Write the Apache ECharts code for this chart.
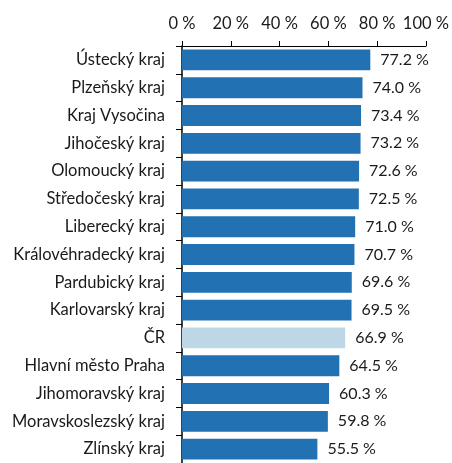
<!DOCTYPE html>
<html>
<head>
<meta charset="utf-8">
<script src="https://cdn.jsdelivr.net/npm/echarts@6/dist/echarts.min.js"></script>
<style>
  html, body { margin: 0; padding: 0; background: #fff; }
  #chart { width: 452px; height: 463px; }
</style>
</head>
<body>
<div id="chart"></div>
<script>
// kraje shora dolů
const regions = [
  "Ústecký kraj", "Plzeňský kraj", "Kraj Vysočina", "Jihočeský kraj",
  "Olomoucký kraj", "Středočeský kraj", "Liberecký kraj", "Královéhradecký kraj",
  "Pardubický kraj", "Karlovarský kraj", "ČR", "Hlavní město Praha",
  "Jihomoravský kraj", "Moravskoslezský kraj", "Zlínský kraj"
];
const shares = [77.2, 74.0, 73.4, 73.2, 72.6, 72.5, 71.0, 70.7, 69.6, 69.5, 66.9, 64.5, 60.3, 59.8, 55.5];
const highlight = "ČR";

const blue = "#2271b3";
const lightBlue = "#bdd7e7";
const font = "Lato, 'Open Sans', sans-serif";

const chart = echarts.init(document.getElementById("chart"));
const option = {
  animation: false,
  grid: { left: 182, top: 46, width: 247, height: 421 },
  xAxis: {
    type: "value",
    position: "top",
    min: 0,
    max: 100,
    interval: 20,
    axisLine: { show: true, lineStyle: { color: "#000", width: 1 } },
    axisTick: { show: true, length: 5, lineStyle: { color: "#000" } },
    splitLine: { show: false },
    axisLabel: {
      formatter: (v) => v + " %",
      color: "#1a1a1a",
      fontSize: 16.5,
      fontFamily: font,
      margin: 14
    }
  },
  yAxis: {
    type: "category",
    inverse: true,
    data: regions,
    axisLine: { show: true, lineStyle: { color: "#000", width: 1.5 } },
    axisTick: { show: true, length: 6, lineStyle: { color: "#000" } },
    axisLabel: {
      color: "#1a1a1a",
      fontSize: 16.5,
      fontFamily: font,
      margin: 17
    }
  },
  series: [
    {
      type: "bar",
      barCategoryGap: "25%",
      data: shares.map((v, i) => ({
        value: v,
        itemStyle: { color: regions[i] === highlight ? lightBlue : blue }
      })),
      label: {
        show: true,
        position: "right",
        distance: 10,
        formatter: (p) => p.value.toFixed(1) + " %",
        color: "#1a1a1a",
        fontSize: 16,
        fontFamily: font
      }
    }
  ]
};
chart.setOption(option);
</script>
</body>
</html>
